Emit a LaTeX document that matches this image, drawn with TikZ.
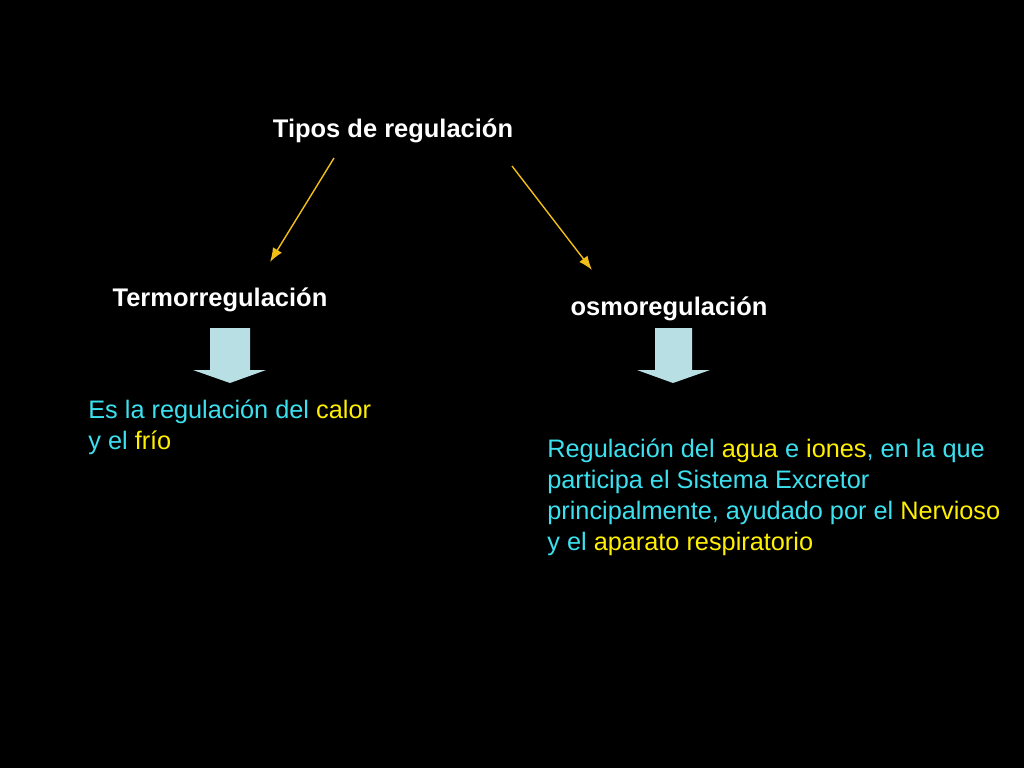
\documentclass[tikz,border=0pt]{standalone}
\usepackage{fontspec}
\setmainfont{Liberation Sans}
\usetikzlibrary{arrows.meta}
\usetikzlibrary{positioning}
\definecolor{cy}{RGB}{60,225,240}
\definecolor{ye}{RGB}{255,240,0}
\definecolor{ar}{RGB}{240,190,20}
\definecolor{bl}{RGB}{184,224,228}
\begin{document}
\begin{tikzpicture}
    [x=0.02cm, y=-0.02cm,
     ttl/.style={font=\fontsize{14.5pt}{17pt}\selectfont\bfseries, text=white},
     txt/.style={font=\fontsize{14.4pt}{17.6pt}\selectfont, text=cy, align=left, inner sep=0pt},
     ln/.style={-{Latex[length=8pt,width=6pt]}, draw=ar, thick},
     blk/.style={fill=bl, draw=none}]

    \fill [black] (0,0) rectangle (1024,768);

    \node [ttl] (tipos) at (393,131) {Tipos de regulaci\'on};
    \node [ttl] (termo) at (220,300) {Termorregulaci\'on};
    \node [ttl] (osmo) at (669,309) {osmoregulaci\'on};

    \coordinate (l0) at (334,158);
    \coordinate (l1) at (270,262);
    \coordinate (r0) at (512,166);
    \coordinate (r1) at (592,270);
    \draw [ln] (l0) -- (l1);
    \draw [ln] (r0) -- (r1);

    \fill [blk] (210,328) -- (250,328) -- (250,370) -- (266,370) -- (230,383)
        -- (193,370) -- (210,370) -- cycle;
    \fill [blk] (655,328) -- (692,328) -- (692,370) -- (710,370) -- (673,383)
        -- (637,370) -- (655,370) -- cycle;

    \node [txt, anchor=north west] (calor) at (88,400) {Es la regulaci\'on del \textcolor{ye}{calor}\\
    y el \textcolor{ye}{fr\'io}};
    \node [txt, anchor=north west] (agua) at (547,439) {Regulaci\'on del \textcolor{ye}{agua} e \textcolor{ye}{iones}, en la que\\
    participa el Sistema Excretor\\
    principalmente, ayudado por el \textcolor{ye}{Nervioso}\\
    y el \textcolor{ye}{aparato respiratorio}};
\end{tikzpicture}
\end{document}
